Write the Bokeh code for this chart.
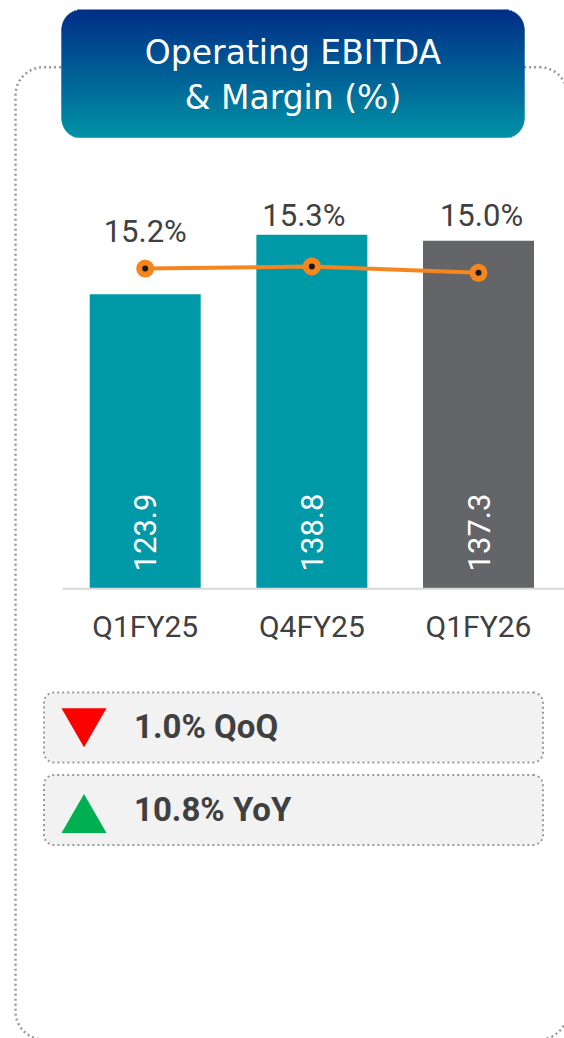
import numpy as np
from bokeh.plotting import figure
from bokeh.models import Range1d
from bokeh.core.properties import value
from bokeh.embed import file_html
from bokeh.resources import INLINE

# ---------------- data ----------------
categories = ["Q1FY25", "Q4FY25", "Q1FY26"]
ebitda = [123.9, 138.8, 137.3]
margin = [15.2, 15.3, 15.0]
ebitda_labels = ["123.9", "138.8", "137.3"]
margin_labels = ["15.2%", "15.3%", "15.0%"]
bar_colors = ["#0099A8", "#0099A8", "#636569"]
title_lines = ["Operating EBITDA", "& Margin (%)"]
change_texts = ["1.0% QoQ", "10.8% YoY"]
change_dirs = ["down", "up"]
AXIS_MIN = 50

# ---------------- figure ----------------
W, H = 564, 1038
p = figure(width=W, height=H, output_backend="svg", toolbar_location=None,
           x_range=Range1d(0, W), y_range=Range1d(H, 0),
           x_axis_location=None, y_axis_location=None, min_border=0,
           outline_line_color=None)
p.grid.visible = False
p.background_fill_color = "white"
p.border_fill_color = "white"

p.extra_x_ranges = {"idx": Range1d(-0.8683, 2.5160)}
p.extra_y_ranges = {"val": Range1d(-62.82, 197.59), "pct": Range1d(-20.947, 27.785)}

idx = list(range(len(categories)))
FONT = value("Roboto")
TEXT_COL = "#404040"
DOT_COL = "#9a9a9a"
BL = 0.4  # baseline correction (fraction of font size)


def base(y, size):
    return [v - BL * size for v in y]


def rrect(x0, y0, x1, y1, r, n=14):
    xs, ys = [], []
    corners = [(x1 - r, y0 + r, -90, 0), (x1 - r, y1 - r, 0, 90),
               (x0 + r, y1 - r, 90, 180), (x0 + r, y0 + r, 180, 270)]
    for cx, cy, a0, a1 in corners:
        for t in np.linspace(np.radians(a0), np.radians(a1), n):
            xs.append(cx + r * np.cos(t))
            ys.append(cy + r * np.sin(t))
    xs.append(xs[0]); ys.append(ys[0])
    return xs, ys

# outer dotted frame
bx, by = rrect(15, 66.7, 567, 1039, 28)
p.line(bx, by, line_color=DOT_COL, line_width=2.5, line_dash="2 3")

# title box with vertical gradient
tx0, ty0, tx1, ty1, tr = 61, 9, 524, 137, 20
top_rgb = np.array([0, 46, 135])
bot_rgb = np.array([0, 146, 166])
lefts, rights, tops, bottoms, cols = [], [], [], [], []
for yy in range(ty0, ty1):
    yc = yy + 0.5
    inset = 0.0
    if yc < ty0 + tr:
        dy = ty0 + tr - yc
        inset = tr - np.sqrt(max(tr * tr - dy * dy, 0))
    elif yc > ty1 - tr:
        dy = yc - (ty1 - tr)
        inset = tr - np.sqrt(max(tr * tr - dy * dy, 0))
    t = (yc - ty0) / (ty1 - ty0)
    c = (top_rgb + (bot_rgb - top_rgb) * t).astype(int)
    lefts.append(tx0 + inset); rights.append(tx1 - inset)
    tops.append(yy); bottoms.append(min(yy + 2, ty1))
    cols.append("#%02x%02x%02x" % tuple(c))
p.quad(left=lefts, right=rights, top=tops, bottom=bottoms,
       fill_color=cols, line_color=None)

p.text(x=[292.5, 292.5], y=base([65, 110], 33), text=title_lines,
       text_font=value("DejaVu Sans"), text_font_size="33px",
       text_color="white", text_align="center", text_baseline="alphabetic")

# bars
p.vbar(x=idx, top=ebitda, bottom=AXIS_MIN, width=0.666, fill_color=bar_colors,
       line_color=None, x_range_name="idx", y_range_name="val")

# baseline
p.segment(x0=[62], x1=[564], y0=[AXIS_MIN], y1=[AXIS_MIN], y_range_name="val",
          line_color="#d9d9d9", line_width=2)

# bar value labels (rotated)
p.text(x=idx, y=[532] * 3, text=ebitda_labels, angle=np.pi / 2,
       x_range_name="idx", text_font=FONT, text_font_size="31px",
       text_color="white", text_align="center", text_baseline="middle")

# margin line
p.line(x=idx, y=margin, line_color="#F5861F", line_width=4,
       x_range_name="idx", y_range_name="pct")
p.scatter(x=idx, y=margin, size=18, fill_color="#F5861F", line_color=None,
          x_range_name="idx", y_range_name="pct")
p.scatter(x=idx, y=margin, size=6, fill_color="#1a1a1a", line_color=None,
          x_range_name="idx", y_range_name="pct")

# margin labels
pct_label_y = [243, 227, 227]
pct_label_dx = [0, -8, 3]
p.text(x=idx, y=base(pct_label_y, 31), x_offset=pct_label_dx, text=margin_labels,
       x_range_name="idx", text_font=FONT, text_font_size="31px",
       text_color=TEXT_COL, text_align="center", text_baseline="alphabetic")

# category labels
p.text(x=idx, y=base([638] * 3, 30), text=categories, x_range_name="idx",
       text_font=FONT, text_font_size="30px", text_color=TEXT_COL,
       text_align="center", text_baseline="alphabetic")

# change boxes
box_tops = [692, 774.5]
for bt in box_tops:
    xs, ys = rrect(43.5, bt, 542.5, bt + 70, 10)
    p.patch(xs, ys, fill_color="#f2f2f2", line_color=None)
    p.line(xs, ys, line_color=DOT_COL, line_width=2, line_dash="2 3")

markers = {"down": ("inverted_triangle", "#FF0000", 28.7),
           "up": ("triangle", "#00B050", 45)}
for d, bt in zip(change_dirs, box_tops):
    mk, col, dy = markers[d]
    p.scatter(x=[83.5], y=[bt + dy], marker=mk, size=45, fill_color=col, line_color=None)

p.text(x=[133.5, 133.5], y=base([739.3, 821.7], 33), text=change_texts,
       text_font=FONT, text_font_size="33px", text_font_style="bold",
       text_color=TEXT_COL, text_align="left", text_baseline="alphabetic")

open("out.html", "w").write(file_html(p, INLINE))
